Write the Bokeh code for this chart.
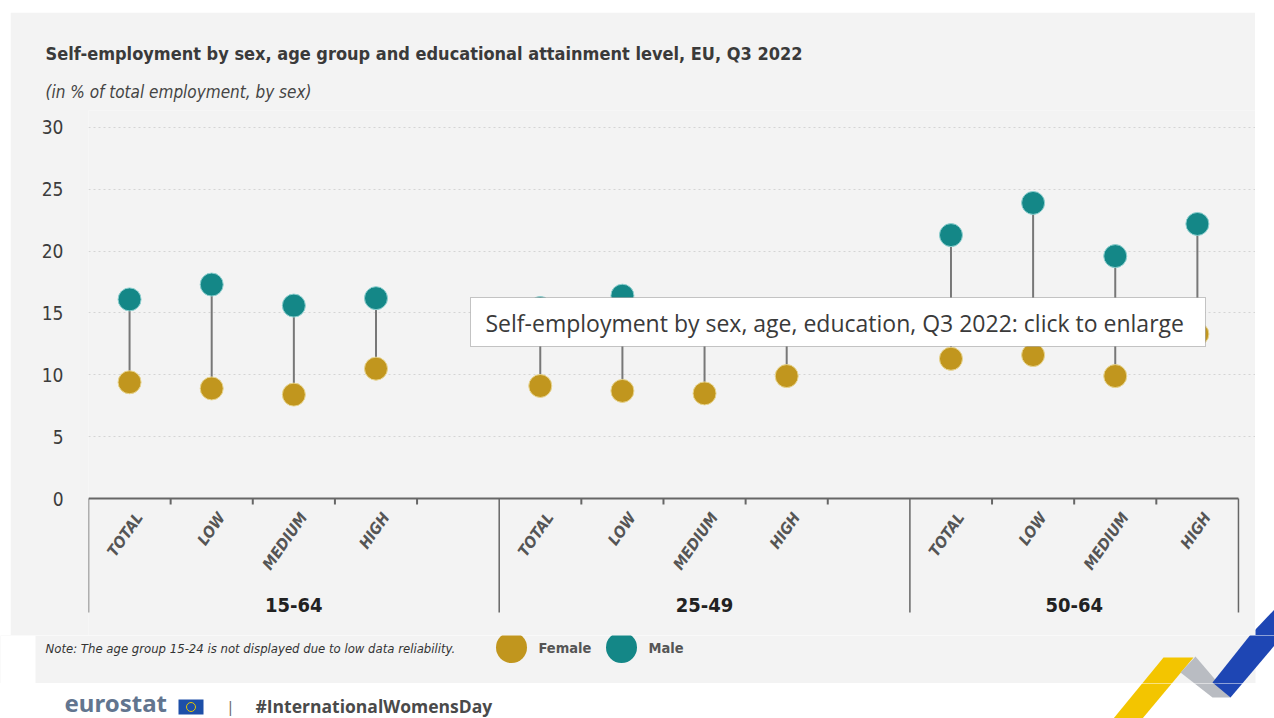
import math
from bokeh.plotting import figure
from bokeh.models import Range1d, FixedTicker, Label, Title, BoxAnnotation, Spacer
from bokeh.layouts import column, row
from bokeh.embed import file_html
from bokeh.resources import INLINE
from bokeh.core.properties import value

# ---------------- data ----------------
age_groups = ["15-64", "25-49", "50-64"]
levels = ["TOTAL", "LOW", "MEDIUM", "HIGH"]
female_values = [9.4, 8.9, 8.4, 10.5,
                 9.1, 8.7, 8.5, 9.9,
                 11.3, 11.6, 9.9, 13.3]
male_values = [16.1, 17.3, 15.6, 16.2,
               15.4, 16.4, 14.6, 15.2,
               21.3, 23.9, 19.6, 22.2]
y_ticks = [0, 5, 10, 15, 20, 25, 30]
series_names = ["Female", "Male"]

# ---------------- styling ----------------
BG = "#f3f3f3"
GOLD = "#c1961e"
TEAL = "#148787"
NARROW = "DejaVu Sans Condensed, Roboto"

# category positions (slot layout: 4 levels + 1 gap per group, no gap after last)
slots_per_group = len(levels) + 1
n_slots = len(age_groups) * slots_per_group - 1
xs, cat_names = [], []
for g in range(len(age_groups)):
    for i, lv in enumerate(levels):
        xs.append(g * slots_per_group + i + 0.5)
        cat_names.append(lv)
boundaries = list(range(0, n_slots + 1))
separators = [g * slots_per_group for g in range(len(age_groups))] + [n_slots]
small_ticks = [b for b in boundaries if b not in separators]
group_centers = [(g * slots_per_group + min(g * slots_per_group + slots_per_group, n_slots)) / 2
                 for g in range(len(age_groups))]

# page-pixel helpers (page = screenshot coordinates, no body margin)
PANEL_L, PANEL_T, PANEL_R, PANEL_B = 10, 12, 1255, 635
F_LEFT, F_TOP = 88, 110
SX = 82.14
SY = 12.367
BASE = 498


def X(px):
    return (px - F_LEFT) / SX


def Y(py):
    return (BASE - py) / SY


p = figure(width=PANEL_R - PANEL_L, height=PANEL_B - PANEL_T,
           x_range=Range1d(X(F_LEFT), X(PANEL_R)),
           y_range=Range1d(Y(PANEL_B), Y(F_TOP)),
           x_axis_location=None,
           output_backend="svg", toolbar_location=None,
           min_border_left=F_LEFT - PANEL_L, min_border_right=0,
           min_border_top=F_TOP - PANEL_T, min_border_bottom=0,
           background_fill_color=BG, border_fill_color=BG,
           outline_line_color=None)

# titles
p.add_layout(Title(text="(in % of total employment, by sex)", align="left", offset=-43,
                   text_font=NARROW, text_font_size="17px", text_font_style="italic",
                   text_color="#444444", standoff=17), "above")
p.add_layout(Title(text="Self-employment by sex, age group and educational attainment level, EU, Q3 2022",
                   align="left", offset=-43, text_font=NARROW, text_font_size="18px",
                   text_font_style="bold", text_color="#3a3a3a", standoff=15), "above")

# y axis
p.yaxis.ticker = FixedTicker(ticks=y_ticks)
p.yaxis.axis_line_color = None
p.yaxis.major_tick_line_color = None
p.yaxis.minor_tick_line_color = None
p.yaxis.major_tick_out = 0
p.yaxis.major_label_standoff = 25
p.yaxis.major_label_text_font = NARROW
p.yaxis.major_label_text_font_size = "19px"
p.yaxis.major_label_text_color = "#3c3c3c"

p.xgrid.visible = False
p.ygrid.ticker = FixedTicker(ticks=y_ticks[1:])
p.ygrid.grid_line_color = "#d4d4d4"
p.ygrid.grid_line_dash = "2 3"
p.ygrid.grid_line_width = 1

# baseline, ticks and separators
p.segment(x0=[boundaries[0]], y0=[0], x1=[boundaries[-1]], y1=[0], line_color="#666666", line_width=2)
p.segment(x0=small_ticks, y0=[0] * len(small_ticks), x1=small_ticks,
          y1=[-6 / SY] * len(small_ticks), line_color="#666666", line_width=2)
p.segment(x0=separators, y0=[0] * len(separators), x1=separators,
          y1=[Y(612)] * len(separators), line_color="#666666", line_width=1.5)

# category labels
p.text(x=[x + 10 / SX for x in xs], y=[Y(514)] * len(xs), text=cat_names,
       angle=math.radians(55), text_align="right", text_baseline="middle",
       text_font=value(NARROW), text_font_size="15.5px", text_font_style="bold italic",
       text_color="#555555")
# group labels
p.text(x=group_centers, y=[Y(604)] * len(group_centers), text=age_groups,
       text_align="center", text_baseline="middle", text_font=value(NARROW),
       text_font_size="20px", text_font_style="bold", text_color="#222222")

# dumbbells
p.segment(x0=xs, y0=female_values, x1=xs, y1=male_values, line_color="#777777", line_width=2)
p.scatter(xs, female_values, size=23, fill_color=GOLD, line_color="#e8d590", line_width=1)
p.scatter(xs, male_values, size=23, fill_color=TEAL, line_color="#8fd0d0", line_width=1)

# overlay caption box
p.add_layout(BoxAnnotation(left=X(470), right=X(1205), top=Y(297), bottom=Y(346),
                           fill_color="white", fill_alpha=1.0, line_color="#444444", line_width=1))
p.add_layout(Label(x=X(485), y=Y(322), text="Self-employment by sex, age, education, Q3 2022: click to enlarge",
                   text_align="left", text_baseline="middle", text_font="Open Sans",
                   text_font_size="23px", text_color="#3a3a3a"))

# logo ribbons (decorative, page coordinates)
yellow = [(1113, 718), (1163, 657), (1193, 657), (1142, 718)]
grey = [(1180, 672), (1195, 656), (1230, 697), (1212, 697)]
blue = [(1212, 682), (1274, 604), (1274, 645), (1230, 697)]
ribbons = [(yellow, "#f3c500"), (grey, "#b9bcc2"), (blue, "#1e46b4")]


def strip(width, height, x0, x1, y0, y1, bg):
    fig = figure(width=width, height=height, x_range=Range1d(x0, x1), y_range=Range1d(y1, y0),
                 x_axis_location=None, y_axis_location=None, toolbar_location=None,
                 output_backend="svg", min_border=0, outline_line_color=None,
                 background_fill_color=bg, border_fill_color=bg)
    fig.grid.visible = False
    return fig


# right edge strip (white, with the tip of the blue ribbon)
side = strip(1274 - PANEL_R, PANEL_B - PANEL_T, PANEL_R, 1274, PANEL_T, PANEL_B, "white")
side.patch([a for a, b in blue], [b for a, b in blue], fill_color="#1e46b4", line_color=None)

# ---------------- note / legend band ----------------
band = strip(1274, 683 - PANEL_B, 0, 1274, PANEL_B, 683, BG)
band.quad(left=[0, PANEL_R], right=[35, 1274], top=[PANEL_B, PANEL_B], bottom=[683, 683],
          fill_color="white", line_color=None)
band.text(x=[45], y=[648], text=["Note: The age group 15-24 is not displayed due to low data reliability."],
          text_align="left", text_baseline="middle", text_font=value(NARROW), text_font_size="13px",
          text_font_style="italic", text_color="#333333")
band.scatter([511, 621], [647, 647], size=31, fill_color=[GOLD, TEAL], line_color=None)
band.text(x=[538, 648], y=[647, 647], text=series_names, text_align="left",
          text_baseline="middle", text_font=value(NARROW), text_font_size="14.5px",
          text_font_style="bold", text_color="#555555")
for poly, col in ribbons:
    band.patch([a for a, b in poly], [b for a, b in poly], fill_color=col, line_color=None)

# ---------------- footer ----------------
f = strip(1274, 718 - 683, 0, 1274, 683, 718, "white")
f.text(x=[64], y=[702], text=["eurostat"], text_align="left", text_baseline="middle",
       text_font=value("Noto Sans"), text_font_size="24px", text_font_style="bold",
       text_color="#62758f")
f.quad(left=[178], right=[203], top=[699], bottom=[714], fill_color="#1d4fa8", line_color=None)
f.scatter([190.5], [706.5], size=9, fill_color=None, line_color="#e8c700", line_width=1)
f.text(x=[230], y=[705], text=["|"], text_align="center", text_baseline="middle",
       text_font=value("Noto Sans"), text_font_size="15px", text_color="#666666")
f.text(x=[255], y=[705], text=["#InternationalWomensDay"], text_align="left", text_baseline="middle",
       text_font=value("Open Sans"), text_font_size="17.5px", text_font_style="bold",
       text_color="#4a4a4a")
for poly, col in ribbons:
    f.patch([a for a, b in poly], [b for a, b in poly], fill_color=col, line_color=None)

layout = column(
    Spacer(width=1274, height=PANEL_T),
    row(Spacer(width=PANEL_L, height=PANEL_B - PANEL_T), p, side),
    band,
    f,
)
open("out.html", "w").write(file_html(layout, INLINE))
